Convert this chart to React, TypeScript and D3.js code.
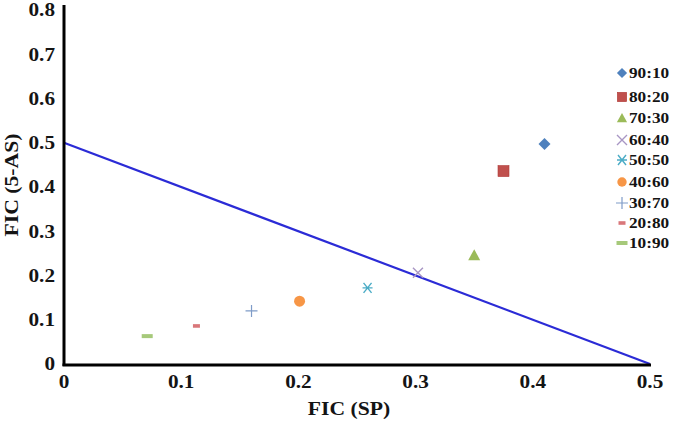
import React from "react";
import * as d3 from "d3";

const seriesNames = ["90:10", "80:20", "70:30", "60:40", "50:50", "40:60", "30:70", "20:80", "10:90"];
const xValues = [0.41, 0.375, 0.35, 0.302, 0.259, 0.201, 0.16, 0.113, 0.071];
const yValues = [0.497, 0.436, 0.246, 0.206, 0.172, 0.142, 0.12, 0.086, 0.063];
const markerTypes = ["diamond", "square", "triangle", "cross", "star", "circle", "plus", "dashSmall", "dash"];
const colors = ["#4F81BD", "#C0504D", "#9BBB59", "#A896C4", "#4BACC6", "#F79646", "#7F9CC8", "#D9777A", "#A6C97A"];
const xTicks = [0, 0.1, 0.2, 0.3, 0.4, 0.5];
const yTicks = [0, 0.1, 0.2, 0.3, 0.4, 0.5, 0.6, 0.7, 0.8];
const lineX = [0, 0.5];
const lineY = [0.5, 0];

const W = 677, H = 426;
const x = d3.scaleLinear().domain([0, 0.5]).range([64, 650]);
const y = d3.scaleLinear().domain([0, 0.8]).range([364, 10]);
const font = "'Liberation Serif', 'Times New Roman', serif";

function Txt({ x, y, rot = 0, sx = 1.18, size, anchor = "start", dy = "0", children }: any) {
  return (
    <text
      transform={`translate(${x},${y}) rotate(${rot}) scale(${sx},1)`}
      textAnchor={anchor}
      dy={dy}
      fontSize={size}
      fontWeight="bold"
      fill="#141414"
    >
      {children}
    </text>
  );
}

function Marker({ type, cx, cy, color, s = 1 }: { type: string; cx: number; cy: number; color: string; s?: number }) {
  switch (type) {
    case "diamond":
      return <path d={`M${cx},${cy - 6 * s}L${cx + 6 * s},${cy}L${cx},${cy + 6 * s}L${cx - 6 * s},${cy}Z`} fill={color} />;
    case "square":
      return <rect x={cx - 5.5 * s} y={cy - 5.5 * s} width={11 * s} height={11 * s} fill={color} stroke="#b03a37" strokeWidth={0.6} />;
    case "triangle":
      return <path d={`M${cx},${cy - 6 * s}L${cx + 6 * s},${cy + 5 * s}L${cx - 6 * s},${cy + 5 * s}Z`} fill={color} />;
    case "cross":
      return <path d={`M${cx - 5},${cy - 5}L${cx + 5},${cy + 5}M${cx - 5},${cy + 5}L${cx + 5},${cy - 5}`} stroke={color} strokeWidth={1.4} />;
    case "star":
      return <path d={`M${cx - 4},${cy - 5}L${cx + 4},${cy + 5}M${cx - 4},${cy + 5}L${cx + 4},${cy - 5}M${cx - 5},${cy}L${cx + 5},${cy}`} stroke={color} strokeWidth={1.4} />;
    case "circle":
      return <circle cx={cx} cy={cy} r={5.5 * s} fill={color} />;
    case "plus":
      return <path d={`M${cx - 6},${cy}L${cx + 6},${cy}M${cx},${cy - 6}L${cx},${cy + 6}`} stroke={color} strokeWidth={1.2} />;
    case "dashSmall":
      return <rect x={cx - 3.5} y={cy - 1.8} width={7} height={3.6} fill={color} />;
    case "dash":
      return <rect x={cx - 5.5} y={cy - 2} width={11} height={4} fill={color} />;
    default:
      return null;
  }
}

export default function App() {
  const line = d3.line<number>().x((d, i) => x(lineX[i])).y((d, i) => y(lineY[i]));
  const legendY = [73, 97, 118, 140, 160, 182, 203, 223, 243];
  return (
    <svg width={W} height={H} style={{ position: "absolute", left: 0, top: 0, background: "#fff" }} fontFamily={font}>
      <path d={line(lineX) || ""} stroke="#2B2BD6" strokeWidth={2.2} fill="none" />
      <line x1={x(0)} x2={x(0)} y1={5} y2={366} stroke="#000" strokeWidth={3} />
      <line x1={x(0) - 1.5} x2={651} y1={365} y2={365} stroke="#000" strokeWidth={3} />
      {yTicks.map((t) => (
        <Txt key={"y" + t} x={55} y={y(t)} dy="0.35em" anchor="end" size={18}>
          {t === 0 ? "0" : d3.format(".1f")(t)}
        </Txt>
      ))}
      {xTicks.map((t) => (
        <Txt key={"x" + t} x={x(t)} y={388} anchor="middle" size={18}>
          {t === 0 ? "0" : d3.format(".1f")(t)}
        </Txt>
      ))}
      <Txt x={349} y={415} anchor="middle" size={19} sx={1.14}>FIC (SP)</Txt>
      <Txt x={18} y={185} rot={-90} anchor="middle" size={19} sx={1.14}>FIC (5-AS)</Txt>
      {seriesNames.map((n, i) => (
        <Marker key={"m" + n} type={markerTypes[i]} cx={x(xValues[i])} cy={y(yValues[i])} color={colors[i]} />
      ))}
      {seriesNames.map((n, i) => (
        <g key={"l" + n}>
          <Marker type={markerTypes[i]} cx={622} cy={legendY[i]} color={colors[i]} s={0.85} />
          <Txt x={629} y={legendY[i]} dy="0.35em" size={15} sx={1.15}>{n}</Txt>
        </g>
      ))}
    </svg>
  );
}
